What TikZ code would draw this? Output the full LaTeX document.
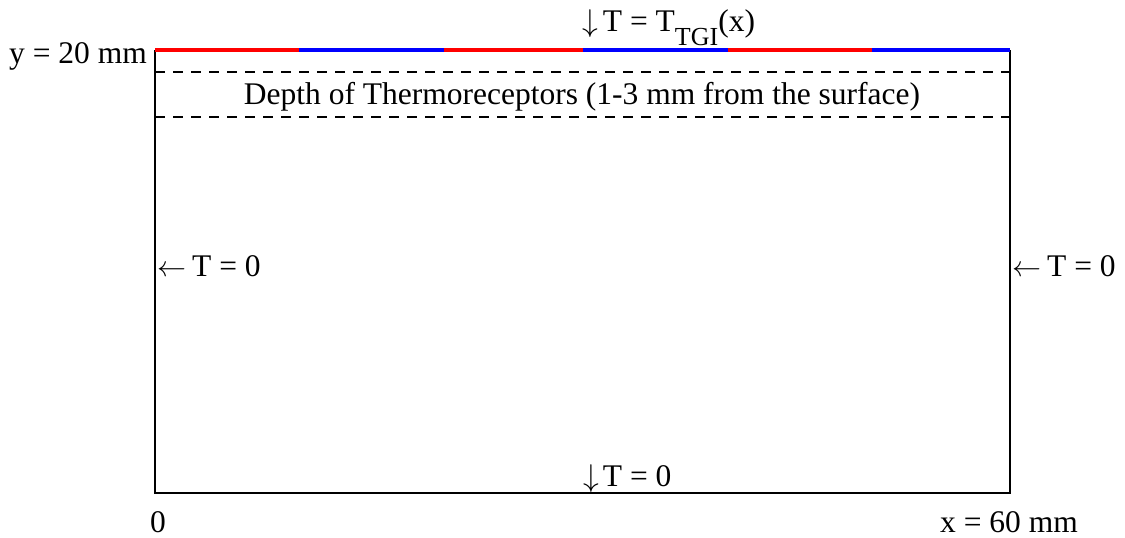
\documentclass[tikz,border=0pt]{standalone}
\usepackage{graphicx}
\usepackage{fontspec}
\setmainfont{Liberation Serif}
\newcommand{\larr}{\resizebox{29pt}{!}{$\leftarrow$}}
\newcommand{\darr}{\resizebox*{!}{28pt}{$\downarrow$}}
\begin{document}
\begin{tikzpicture}[x=1pt,y=-1pt,
  lbl/.style={inner sep=0pt,font=\fontsize{31.5}{36}\selectfont},
  boxline/.style={line width=2.5pt,black},
  depthline/.style={line width=2.3pt,black,dash pattern=on 10pt off 8pt},
  hot/.style={line width=3.5pt,red},
  cold/.style={line width=3.5pt,blue}]
\useasboundingbox (0,0) rectangle (1125,538);
% corners
\coordinate (tl) at (155,50);
\coordinate (tr) at (1010,50);
\coordinate (bl) at (155,493);
\coordinate (br) at (1010,493);
% box
\draw[boxline] (tl) -- (bl) -- (br) -- (tr);
% top boundary segments
\coordinate (s0) at (155,50);
\coordinate (s1) at (299,50);
\coordinate (s2) at (444,50);
\coordinate (s3) at (583,50);
\coordinate (s4) at (728,50);
\coordinate (s5) at (872,50);
\coordinate (s6) at (1010,50);
\draw[hot] (s0) -- (s1);
\draw[cold] (s1) -- (s2);
\draw[hot] (s2) -- (s3);
\draw[cold] (s3) -- (s4);
\draw[hot] (s4) -- (s5);
\draw[cold] (s5) -- (s6);
% dashed depth lines
\coordinate (d1l) at (155,72);
\coordinate (d1r) at (1010,72);
\coordinate (d2l) at (155,117);
\coordinate (d2r) at (1010,117);
\draw[depthline] (d1l) -- (d1r);
\draw[depthline] (d2l) -- (d2r);
% labels
\node[lbl,anchor=base east] (ylab) at (147,63) {y = 20 mm};
\node[lbl,anchor=base] (depth) at (582,104) {Depth of Thermoreceptors (1-3 mm from the surface)};
\node[lbl,anchor=base west] (toplab) at (582,31) {\darr\kern5pt T = T\raisebox{-14pt}{\fontsize{26}{30}\selectfont TGI}(x)};
\node[lbl,anchor=base west] (leftlab) at (157,276) {\larr\kern6pt T = 0};
\node[lbl,anchor=base west] (rightlab) at (1012,276) {\larr\kern6pt T = 0};
\node[lbl,anchor=base west] (botlab) at (583,486) {\darr\kern4pt T = 0};
\node[lbl,anchor=base west] (zero) at (150,532) {0};
\node[lbl,anchor=base east] (xlab) at (1078,532) {x = 60 mm};
\end{tikzpicture}
\end{document}
